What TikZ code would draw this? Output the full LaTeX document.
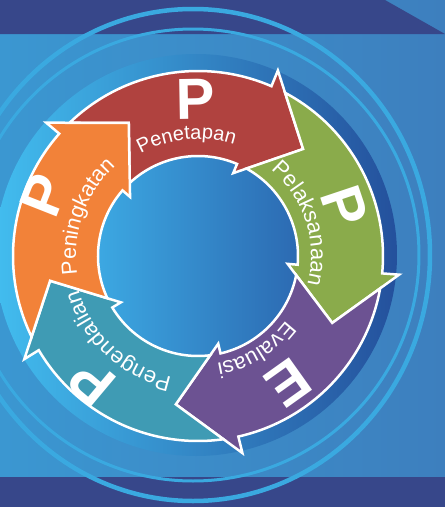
\documentclass[tikz,border=0pt]{standalone}
\usepackage{fontspec}
\setmainfont{Liberation Sans}
\usetikzlibrary{decorations.text}

\definecolor{bandnavy}{HTML}{37478A}
\definecolor{bgleft}{HTML}{3B97D1}
\definecolor{bgright}{HTML}{3D7FBE}
\definecolor{ringblue}{HTML}{3AA9E0}
\definecolor{shadowleft}{HTML}{42BDEF}
\definecolor{shadowright}{HTML}{24509C}
\definecolor{innerleft}{HTML}{3CA8E2}
\definecolor{innerright}{HTML}{2C6AB2}
\definecolor{arrowred}{HTML}{B0423F}
\definecolor{arrowgreen}{HTML}{8AAB4B}
\definecolor{arrowpurple}{HTML}{6C5292}
\definecolor{arrowteal}{HTML}{3F9BB4}
\definecolor{arroworange}{HTML}{F28239}

\tikzset{
  arrowpart/.style={draw=white, line width=2.5pt},
  bigletter/.style={text=white, inner sep=0pt, font=\fontsize{58}{58}\selectfont\bfseries},
}

\begin{document}
\begin{tikzpicture}[x=1pt,y=1pt]
	\useasboundingbox (-198,-251) rectangle (247,256);
	% background and the two bands
	\shade[left color=bgleft, right color=bgright] (-198,-251) rectangle (247,256);
	\fill[bandnavy] (-198,256) -- (187,256) -- (247,222) -- (-198,222) -- cycle;
	\fill[bandnavy] (-198,-221) rectangle (247,-251);
	% rings
	\draw[ringblue, line width=3pt] (-5,1) circle [radius=226];
	\draw[ringblue, line width=4.5pt] (-5,1) ellipse [x radius=237, y radius=246];
	% shadow disc and inner disc
	\shade[left color=shadowleft, right color=shadowright] (-2,1) circle [radius=201];
	\shade[left color=innerleft, right color=innerright] (0,0) circle [radius=100];
	% the five arrows, each one turned 72 degrees on from the last
	\foreach \col [count=\k from 0] in {arrowred, arrowgreen, arrowpurple, arrowteal, arroworange} {
		\begin{scope}[rotate=-72*\k]
			\filldraw[arrowpart, fill=\col] (133.9:185) arc[start angle=133.9, end angle=66.6, radius=185]
				-- (66.7:202) -- (45.5:150) -- (67:90) -- (67:100)
				arc[start angle=67, end angle=133, radius=100] -- (117.5:150) -- cycle;
		\end{scope}
	}
	% big letters and the curved words
	\foreach \word/\ltr/\mid/\rad/\size/\bang/\brad [count=\k from 0] in {
		Penetapan/P/95.6/117/20/91/157,
		Pelaksanaan/P/17.7/113/22/18.5/155,
		Evaluasi/E/-58.2/109/22/-54.5/156,
		Pengendalian/P/-133.2/124/22/-130/165,
		Peningkatan/P/160.5/122/21.5/158.5/166} {
		\node[bigletter, rotate=\bang-90] (big\k) at (\bang:\brad) {\ltr};
		\path[decorate, decoration={text along path, text align=center, text color=white,
			text/.expanded={|\noexpand\fontsize{\size}{\size}\noexpand\selectfont|\word}}]
			({\mid+45}:\rad) arc[start angle=\mid+45, end angle=\mid-45, radius=\rad];
	}
\end{tikzpicture}
\end{document}
